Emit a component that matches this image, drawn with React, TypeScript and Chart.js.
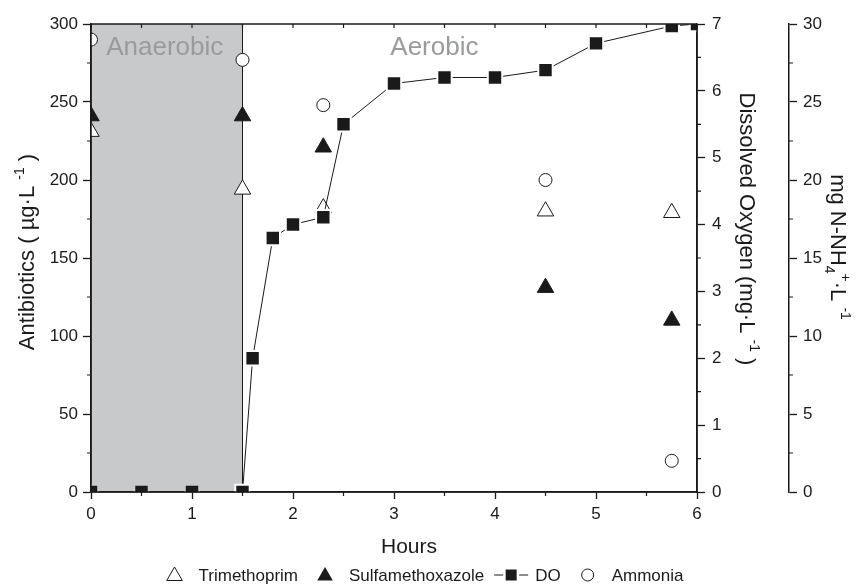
import React, { useEffect, useRef } from 'react';
import { Chart, registerables } from 'chart.js';

Chart.register(...registerables);

const FAMILY = "'Liberation Sans', Arial, Helvetica, sans-serif";
const INK = '#1a1a1a';
const SHADE = '#c8c9cb';

// ---- data ----
const doHours = [0, 0.5, 1, 1.5, 1.6, 1.8, 2, 2.3, 2.5, 3, 3.5, 4, 4.5, 5, 5.75, 6];
const doValues = [0, 0, 0, 0, 2.0, 3.8, 4.0, 4.11, 5.5, 6.11, 6.2, 6.2, 6.31, 6.71, 6.97, 7.0];
const sampleHours = [0, 1.5, 2.3, 4.5, 5.75];
const trimethoprim = [231, 194, 182, 180, 179];
const sulfamethoxazole = [241, 241, 221, 131, 110];
const ammonia = [29.0, 27.7, 24.8, 20.0, 2.0];

const hoursTicks = [0, 6, 1];
const antibioticsTicks = [0, 300, 50];
const doTicks = [0, 7, 1];
const ammoniaTicks = [0, 30, 5];
const anaerobicEnd = 1.5;
const phaseNames = ['Anaerobic', 'Aerobic'];

type Seg = { t: string; k?: 'sup' | 'sub' };
const leftTitle: Seg[] = [{ t: 'Antibiotics ( µg·L ' }, { t: '-1', k: 'sup' }, { t: ' )' }];
const doTitle: Seg[] = [{ t: 'Dissolved Oxygen (mg·L ' }, { t: '-1', k: 'sup' }, { t: ' )' }];
const nhTitle: Seg[] = [{ t: 'mg N-NH' }, { t: '4', k: 'sub' }, { t: '+', k: 'sup' }, { t: '·L ' }, { t: '-1', k: 'sup' }];
const xTitle: Seg[] = [{ t: 'Hours' }];

function drawRich(ctx: CanvasRenderingContext2D, segs: Seg[], cx: number, cy: number, rot: number, size: number) {
  ctx.save();
  ctx.translate(cx, cy);
  ctx.rotate(rot);
  ctx.fillStyle = INK;
  ctx.textBaseline = 'alphabetic';
  ctx.textAlign = 'left';
  const small = Math.round(size * 0.62);
  const widths = segs.map((s) => {
    ctx.font = `${s.k ? small : size}px ${FAMILY}`;
    return ctx.measureText(s.t).width;
  });
  const total = widths.reduce((a, b) => a + b, 0);
  let x = -total / 2;
  const base = size * 0.36;
  segs.forEach((s, i) => {
    ctx.font = `${s.k ? small : size}px ${FAMILY}`;
    const dy = s.k === 'sup' ? -size * 0.45 : s.k === 'sub' ? size * 0.28 : 0;
    ctx.fillText(s.t, x, base + dy);
    x += widths[i];
  });
  ctx.restore();
}

function tri(ctx: CanvasRenderingContext2D, x: number, y: number, r: number, filled: boolean) {
  ctx.beginPath();
  ctx.moveTo(x, y - r);
  ctx.lineTo(x + r * 0.866, y + r * 0.5);
  ctx.lineTo(x - r * 0.866, y + r * 0.5);
  ctx.closePath();
  if (filled) {
    ctx.fillStyle = INK;
    ctx.fill();
  } else {
    ctx.fillStyle = '#fff';
    ctx.fill();
    ctx.strokeStyle = INK;
    ctx.lineWidth = 1;
    ctx.stroke();
  }
}

const decorPlugin = {
  id: 'decor',
  beforeDraw(chart: any) {
    const { ctx, chartArea: a, scales } = chart;
    const x = scales.x;
    const y = scales.y;
    const xe = x.getPixelForValue(anaerobicEnd);
    ctx.save();
    ctx.fillStyle = SHADE;
    ctx.fillRect(a.left, a.top, xe - a.left, a.bottom - a.top);
    ctx.strokeStyle = INK;
    ctx.lineWidth = 1;
    ctx.beginPath();
    ctx.moveTo(xe, a.top);
    ctx.lineTo(xe, a.bottom);
    ctx.stroke();
    ctx.fillStyle = '#9a9b9d';
    ctx.font = `26px ${FAMILY}`;
    ctx.textAlign = 'center';
    ctx.textBaseline = 'middle';
    ctx.fillText(phaseNames[0], x.getPixelForValue(0.73), y.getPixelForValue(285));
    ctx.fillText(phaseNames[1], x.getPixelForValue(3.4), y.getPixelForValue(285));
    ctx.restore();
  },
  afterDraw(chart: any) {
    const { ctx, chartArea: a, scales } = chart;
    const { x, y, y1, y2 } = scales;
    ctx.save();
    ctx.strokeStyle = INK;
    ctx.lineWidth = 1.5;
    ctx.beginPath();
    ctx.moveTo(a.left, a.top); ctx.lineTo(a.right, a.top);
    ctx.moveTo(a.left, a.top); ctx.lineTo(a.left, a.bottom);
    ctx.moveTo(a.left, a.bottom); ctx.lineTo(a.right, a.bottom);
    ctx.moveTo(a.right, a.top); ctx.lineTo(a.right, a.bottom);
    ctx.stroke();
    ctx.lineWidth = 1.2;
    ctx.beginPath();
    for (let v = hoursTicks[0]; v <= hoursTicks[1] + 1e-9; v += hoursTicks[2] / 2) {
      const px = x.getPixelForValue(v);
      ctx.moveTo(px, a.top); ctx.lineTo(px, a.top + 4);
      if (Math.abs(v % hoursTicks[2]) > 1e-6) { ctx.moveTo(px, a.bottom); ctx.lineTo(px, a.bottom + 4); }
    }
    for (let v = antibioticsTicks[2] / 2; v < antibioticsTicks[1]; v += antibioticsTicks[2]) {
      const py = y.getPixelForValue(v);
      ctx.moveTo(a.left - 4, py); ctx.lineTo(a.left, py);
    }
    for (let v = doTicks[2] / 2; v < doTicks[1]; v += doTicks[2]) {
      const py = y1.getPixelForValue(v);
      ctx.moveTo(y1.left, py); ctx.lineTo(y1.left + 4, py);
    }
    for (let v = ammoniaTicks[2] / 2; v < ammoniaTicks[1]; v += ammoniaTicks[2]) {
      const py = y2.getPixelForValue(v);
      ctx.moveTo(y2.left, py); ctx.lineTo(y2.left + 4, py);
    }
    ctx.stroke();
    ctx.restore();

    drawRich(ctx, leftTitle, 26, 252, -Math.PI / 2, 22);
    drawRich(ctx, doTitle, 748, 229, Math.PI / 2, 22);
    drawRich(ctx, nhTitle, 839, 247, Math.PI / 2, 22);
    drawRich(ctx, xTitle, 409, 545, 0, 21);

    const ds = chart.data.datasets;
    const order = [1, 2, 0, 3];
    const ly = 575;
    ctx.save();
    ctx.font = `17px ${FAMILY}`;
    const symW = [16, 16, 36, 13];
    const widths = order.map((i) => ctx.measureText(ds[i].label).width);
    const toText = 24;
    const toNext = 27;
    let total = 0;
    order.forEach((_, k) => {
      total += (k === 0 ? symW[0] / 2 : 0) + toText + widths[k] + (k < order.length - 1 ? toNext : 0);
    });
    let cx = 425 - total / 2 + symW[0] / 2;
    order.forEach((i, k) => {
      if (k === 0) tri(ctx, cx, ly + 1, 9, false);
      else if (k === 1) tri(ctx, cx, ly + 1, 9, true);
      else if (k === 2) {
        ctx.strokeStyle = INK;
        ctx.lineWidth = 1;
        ctx.beginPath();
        ctx.moveTo(cx - 17, ly); ctx.lineTo(cx + 17, ly);
        ctx.stroke();
        ctx.fillStyle = '#fff';
        ctx.fillRect(cx - 8, ly - 7, 16, 14);
        ctx.fillStyle = INK;
        ctx.fillRect(cx - 5.5, ly - 5.5, 11, 11);
      } else {
        ctx.beginPath();
        ctx.arc(cx, ly, 6, 0, Math.PI * 2);
        ctx.fillStyle = '#fff';
        ctx.fill();
        ctx.strokeStyle = INK;
        ctx.lineWidth = 1;
        ctx.stroke();
      }
      ctx.fillStyle = INK;
      ctx.textAlign = 'left';
      ctx.textBaseline = 'middle';
      ctx.font = `17px ${FAMILY}`;
      const tx = cx + toText;
      ctx.fillText(ds[i].label, tx, ly + 1);
      cx = tx + widths[k] + toNext;
    });
    ctx.restore();
  },
};

function axis(range: number[], position: string, width: number, padding: number, extra: any = {}) {
  return {
    type: 'linear',
    position,
    min: range[0],
    max: range[1],
    ticks: {
      stepSize: range[2],
      color: INK,
      padding,
      font: { family: FAMILY, size: 17 },
    },
    grid: {
      drawOnChartArea: false,
      drawTicks: true,
      tickLength: 8,
      tickColor: INK,
      tickWidth: 1.3,
    },
    border: { display: true, color: INK, width: 1.5 },
    afterFit: (s: any) => {
      if (position === 'bottom') s.height = width;
      else s.width = width;
    },
    ...extra,
  };
}

export default function App() {
  const ref = useRef<HTMLCanvasElement>(null);
  useEffect(() => {
    if (!ref.current) return;
    const chart = new Chart(ref.current, {
      type: 'scatter',
      data: {
        datasets: [
          {
            label: 'DO',
            type: 'line',
            data: doHours.map((h, i) => ({ x: h, y: doValues[i] })),
            yAxisID: 'y1',
            borderColor: INK,
            borderWidth: 1,
            tension: 0,
            showLine: true,
            pointStyle: 'rect',
            pointRadius: 10.2,
            pointBackgroundColor: INK,
            pointBorderColor: (c: any) => (c.raw && c.raw.x < anaerobicEnd ? SHADE : '#fff'),
            pointBorderWidth: 2,
            clip: 0,
          },
          {
            label: 'Trimethoprim',
            data: sampleHours.map((h, i) => ({ x: h, y: trimethoprim[i] })),
            yAxisID: 'y',
            pointStyle: 'triangle',
            pointRadius: 9.5,
            backgroundColor: '#fff',
            borderColor: INK,
            borderWidth: 1,
            clip: 0,
          },
          {
            label: 'Sulfamethoxazole',
            data: sampleHours.map((h, i) => ({ x: h, y: sulfamethoxazole[i] })),
            yAxisID: 'y',
            pointStyle: 'triangle',
            pointRadius: 9.5,
            backgroundColor: INK,
            borderColor: INK,
            borderWidth: 1,
            clip: 0,
          },
          {
            label: 'Ammonia',
            data: sampleHours.map((h, i) => ({ x: h, y: ammonia[i] })),
            yAxisID: 'y2',
            pointStyle: 'circle',
            pointRadius: 6.5,
            backgroundColor: '#fff',
            borderColor: INK,
            borderWidth: 1,
            clip: 0,
          },
        ],
      } as any,
      options: {
        responsive: false,
        animation: false,
        events: [],
        layout: { padding: { top: 24, left: 0, right: 0, bottom: 0 } },
        plugins: { legend: { display: false }, tooltip: { enabled: false } },
        scales: {
          x: axis(hoursTicks, 'bottom', 94, 5, { grid: { drawOnChartArea: false, tickLength: 7, tickColor: INK, tickWidth: 1.3 } }),
          y: axis(antibioticsTicks, 'left', 91, 5),
          y1: axis(doTicks, 'right', 92, 7, { weight: 0 }),
          y2: axis(ammoniaTicks, 'right', 69, 6, { weight: 1 }),
        } as any,
      },
      plugins: [decorPlugin],
    });
    return () => chart.destroy();
  }, []);
  return (
    <div style={{ position: 'fixed', left: 0, top: 0, width: 858, height: 586, background: '#fff' }}>
      <canvas ref={ref} width={858} height={586} style={{ display: 'block', width: 858, height: 586 }} />
    </div>
  );
}
